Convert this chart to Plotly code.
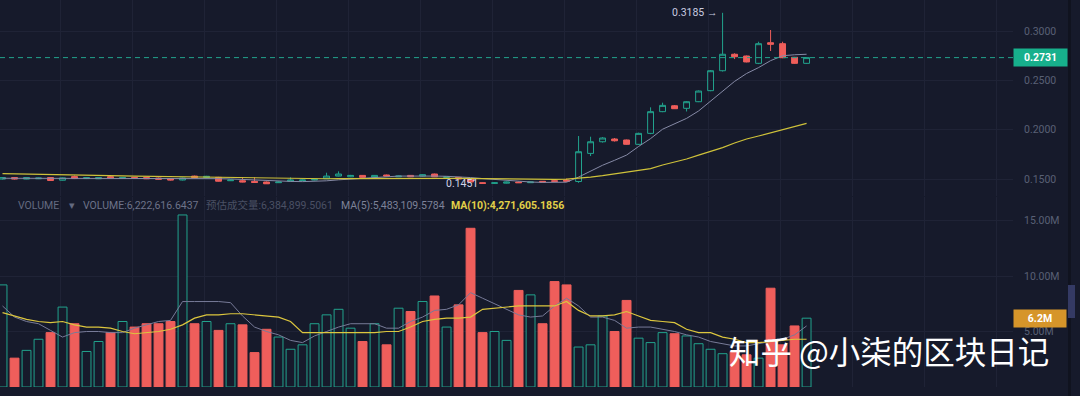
import plotly.graph_objects as go

# ---------------- data ----------------
idx = list(range(68))
opens = [0.1500,0.1515,0.1500,0.1503,0.1515,0.1488,0.1525,0.1505,0.1503,0.1524,
         0.1508,0.1516,0.1515,0.1510,0.1503,0.1490,0.1530,0.1515,0.1517,0.1483,
         0.1483,0.1477,0.1470,0.1463,0.1477,0.1483,0.1490,0.1503,0.1530,0.1523,
         0.1537,0.1517,0.1541,0.1523,0.1537,0.1530,0.1551,0.1517,0.1517,0.1500,
         0.1463,0.1456,0.1458,0.1470,0.1463,0.1477,0.1483,0.1490,0.1475,0.1760,
         0.1878,0.1906,0.1896,0.1852,0.1963,0.2183,0.2243,0.2217,0.2284,0.2396,
         0.2598,0.2765,0.2747,0.2673,0.2882,0.2872,0.2734,0.2673]
highs = [0.1520,0.1520,0.1518,0.1514,0.1520,0.1516,0.1535,0.1518,0.1518,0.1528,
         0.1520,0.1520,0.1518,0.1515,0.1508,0.1514,0.1535,0.1532,0.1522,0.1495,
         0.1517,0.1517,0.1475,0.1475,0.1517,0.1495,0.1500,0.1564,0.1578,0.1542,
         0.1540,0.1540,0.1545,0.1534,0.1540,0.1548,0.1555,0.1526,0.1520,0.1503,
         0.1466,0.1466,0.1474,0.1474,0.1474,0.1480,0.1486,0.1505,0.1936,0.1929,
         0.1925,0.1916,0.1900,0.1970,0.2227,0.2274,0.2250,0.2290,0.2398,0.2605,
         0.3185,0.2775,0.2752,0.2892,0.3011,0.2892,0.2738,0.2735]
lows = [0.1495,0.1495,0.1498,0.1500,0.1482,0.1485,0.1500,0.1500,0.1500,0.1508,
        0.1505,0.1505,0.1500,0.1495,0.1486,0.1486,0.1510,0.1512,0.1475,0.1480,
        0.1467,0.1462,0.1450,0.1460,0.1474,0.1480,0.1487,0.1500,0.1527,0.1520,
        0.1514,0.1514,0.1527,0.1520,0.1520,0.1527,0.1520,0.1514,0.1497,0.1465,
        0.1451,0.1452,0.1455,0.1460,0.1460,0.1467,0.1474,0.1474,0.1462,0.1733,
        0.1870,0.1880,0.1848,0.1845,0.1955,0.2178,0.2210,0.2185,0.2280,0.2390,
        0.2590,0.2716,0.2683,0.2665,0.2798,0.2725,0.2668,0.2668]
closes = [0.1515,0.1500,0.1515,0.1510,0.1485,0.1512,0.1505,0.1514,0.1515,0.1512,
          0.1516,0.1508,0.1503,0.1498,0.1490,0.1510,0.1515,0.1528,0.1478,0.1490,
          0.1470,0.1465,0.1452,0.1470,0.1490,0.1490,0.1497,0.1530,0.1551,0.1537,
          0.1517,0.1537,0.1530,0.1530,0.1523,0.1544,0.1523,0.1523,0.1500,0.1470,
          0.1456,0.1462,0.1470,0.1463,0.1470,0.1470,0.1477,0.1477,0.1777,0.1878,
          0.1916,0.1888,0.1852,0.1963,0.2183,0.2247,0.2213,0.2284,0.2392,0.2598,
          0.2765,0.2740,0.2687,0.2872,0.2866,0.2730,0.2673,0.2731]
ma7 = [0.1508,0.1508,0.1507,0.1507,0.1506,0.1505,0.1506,0.1507,0.1508,0.1510,
       0.1511,0.1511,0.1510,0.1508,0.1506,0.1506,0.1507,0.1508,0.1504,0.1501,
       0.1495,0.1490,0.1483,0.1478,0.1476,0.1474,0.1476,0.1482,0.1492,0.1500,
       0.1508,0.1517,0.1525,0.1530,0.1530,0.1532,0.1530,0.1528,0.1523,0.1515,
       0.1505,0.1495,0.1486,0.1477,0.1470,0.1466,0.1466,0.1468,0.1520,0.1580,
       0.1640,0.1690,0.1743,0.1830,0.1910,0.2005,0.2058,0.2115,0.2190,0.2290,
       0.2390,0.2490,0.2570,0.2630,0.2700,0.2750,0.2760,0.2765]
ma30 = [0.1555,0.1552,0.1549,0.1546,0.1544,0.1542,0.1540,0.1538,0.1536,0.1534,
        0.1532,0.1530,0.1528,0.1526,0.1524,0.1522,0.1520,0.1518,0.1516,0.1514,
        0.1512,0.1510,0.1508,0.1506,0.1505,0.1504,0.1503,0.1503,0.1504,0.1505,
        0.1506,0.1507,0.1508,0.1508,0.1508,0.1508,0.1508,0.1507,0.1506,0.1504,
        0.1502,0.1500,0.1499,0.1498,0.1497,0.1496,0.1497,0.1500,0.1508,0.1520,
        0.1535,0.1551,0.1571,0.1586,0.1606,0.1642,0.1672,0.1703,0.1743,0.1779,
        0.1819,0.1865,0.1906,0.1936,0.1967,0.1997,0.2032,0.2065]
volume_m = [9.2,2.6,3.3,4.3,4.9,7.2,5.7,3.2,4.1,4.9,
            5.9,5.4,5.7,5.7,5.9,15.5,5.7,5.9,5.1,5.7,
            5.6,3.1,5.2,4.5,3.4,3.8,5.7,6.5,7.0,5.3,
            4.1,5.7,3.8,7.1,6.8,7.7,8.2,5.4,7.4,14.3,
            4.9,5.0,4.2,8.7,8.3,5.7,9.5,9.2,3.6,3.8,
            6.4,5.0,7.8,4.4,4.0,4.9,4.8,4.6,3.9,3.4,
            3.0,3.2,2.9,2.6,8.9,3.8,5.5,6.2]
vol_ma5_m = [7.3,6.3,5.9,5.7,5.1,4.5,4.9,5.0,5.0,4.9,
             4.9,5.3,5.6,5.9,6.0,7.7,7.7,7.7,7.7,7.6,
             6.4,5.4,5.0,4.7,4.2,4.0,4.6,5.0,5.4,5.7,
             5.7,5.7,5.3,5.3,5.9,6.3,6.9,7.0,7.4,8.5,
             8.0,7.5,7.0,6.5,6.3,6.4,7.3,8.0,7.3,6.3,
             6.3,6.0,5.3,5.4,5.4,5.2,5.0,4.7,4.5,4.1,
             3.9,3.7,3.7,3.9,4.1,4.3,4.7,5.5]
vol_ma10_m = [6.7,6.4,6.1,5.9,5.8,5.9,5.6,5.4,5.4,5.3,
              5.0,4.8,4.9,5.0,5.2,5.6,6.2,6.5,6.5,6.6,
              6.6,6.5,6.4,6.3,5.9,4.9,4.9,4.9,4.9,4.9,
              4.9,4.9,5.0,5.0,5.4,5.9,6.1,6.2,6.2,6.3,
              7.0,7.1,7.2,7.3,7.3,7.3,7.3,7.7,6.9,6.4,
              6.4,6.5,6.8,6.4,6.0,5.9,5.8,5.2,4.9,4.9,
              4.5,4.3,4.0,4.0,4.1,4.2,4.3,4.3]
price_ticks = [0.15, 0.20, 0.25, 0.30]
price_tick_text = ["0.1500", "0.2000", "0.2500", "0.3000"]
vol_ticks_m = [5, 10, 15]
vol_tick_text = ["5.00M", "10.00M", "15.00M"]
last_price = 0.2731
last_volume_m = 6.2
high_label = 0.3185
low_label = 0.1451

volume = [v * 1e6 for v in volume_m]
vol_ma5 = [v * 1e6 for v in vol_ma5_m]
vol_ma10 = [v * 1e6 for v in vol_ma10_m]

# ---------------- style ----------------
BG = "#161a2b"
TEAL = "#22a38d"
RED = "#ef5e5b"
GRID = "#1f2336"
AXIS_TXT = "#596075"
FONT = "Roboto"

up = [c >= o for o, c in zip(opens, closes)]
bar_fill = [BG if u else RED for u in up]
bar_line = [TEAL if u else RED for u in up]

fig = go.Figure()

fig.add_trace(go.Bar(
    x=idx, y=volume, width=0.74, xaxis="x", yaxis="y",
    marker=dict(color=bar_fill, line=dict(color=bar_line, width=1)),
    hoverinfo="skip", showlegend=False))
fig.add_trace(go.Scatter(x=idx, y=vol_ma5, mode="lines", xaxis="x", yaxis="y",
                         line=dict(color="#777b98", width=1), hoverinfo="skip", showlegend=False))
fig.add_trace(go.Scatter(x=idx, y=vol_ma10, mode="lines", xaxis="x", yaxis="y",
                         line=dict(color="#dcc63e", width=1.2), hoverinfo="skip", showlegend=False))

fig.add_trace(go.Candlestick(
    x=idx, open=opens, high=highs, low=lows, close=closes, xaxis="x2", yaxis="y2",
    increasing=dict(line=dict(color=TEAL, width=1), fillcolor="rgba(0,0,0,0)"),
    decreasing=dict(line=dict(color=RED, width=1), fillcolor=RED),
    hoverinfo="skip", showlegend=False))
fig.add_trace(go.Scatter(x=idx, y=ma7, mode="lines", xaxis="x2", yaxis="y2",
                         line=dict(color="#868aa6", width=1), hoverinfo="skip", showlegend=False))
fig.add_trace(go.Scatter(x=idx, y=ma30, mode="lines", xaxis="x2", yaxis="y2",
                         line=dict(color="#cfc23a", width=1.2), hoverinfo="skip", showlegend=False))

xcommon = dict(range=[-0.21, 84.2], showgrid=True, gridcolor=GRID, gridwidth=1,
               tick0=4.79, dtick=6, showticklabels=False, zeroline=False,
               showline=False, ticks="", fixedrange=True)

fig.update_layout(
    width=1080, height=396,
    margin=dict(l=0, r=67, t=0, b=9, autoexpand=False),
    paper_bgcolor=BG, plot_bgcolor=BG,
    font=dict(family=FONT, color=AXIS_TXT, size=10),
    xaxis=dict(domain=[0, 1], anchor="y", **xcommon),
    xaxis2=dict(domain=[0, 1], anchor="y2", matches="x", rangeslider=dict(visible=False), **xcommon),
    yaxis=dict(domain=[0, 0.491], range=[0, 17.12e6], side="right",
               tickvals=[v * 1e6 for v in vol_ticks_m], ticktext=vol_tick_text,
               showgrid=True, gridcolor=GRID, zeroline=False, ticks="",
               ticklabelstandoff=10, tickfont=dict(size=10.5, color=AXIS_TXT)),
    yaxis2=dict(domain=[0.4935, 1], range=[0.1328, 0.3315], side="right",
                tickvals=price_ticks, ticktext=price_tick_text,
                showgrid=True, gridcolor=GRID, zeroline=False, ticks="",
                ticklabelstandoff=10, tickfont=dict(size=10.5, color=AXIS_TXT)),
    bargap=0, showlegend=False,
)

# last-price dashed line
fig.add_shape(type="line", xref="paper", yref="y2", x0=0, x1=1,
              y0=last_price, y1=last_price, line=dict(color=TEAL, width=1, dash="5px,4px"))

annots = []
# price tag
annots.append(dict(xref="paper", yref="y2", x=1.0, y=last_price, xanchor="left", yanchor="middle",
                   text="<b>%.4f</b>" % last_price, showarrow=False, bgcolor="#17b08c",
                   width=49, height=13, borderpad=2, font=dict(color="white", size=10.5, family=FONT)))
# volume tag
annots.append(dict(xref="paper", yref="y", x=1.0, y=last_volume_m * 1e6, xanchor="left", yanchor="middle",
                   text="<b>%.1fM</b>" % last_volume_m, showarrow=False, bgcolor="#d6952a",
                   width=48, height=13, borderpad=2, font=dict(color="white", size=10.5, family=FONT)))
# high / low labels
annots.append(dict(xref="x2", yref="y2", x=59.7, y=high_label, xanchor="right", yanchor="middle",
                   text="%.4f →" % high_label, showarrow=False, font=dict(color="#c9cce0", size=10.5, family=FONT)))
annots.append(dict(xref="x2", yref="y2", x=39.75, y=low_label, xanchor="right", yanchor="middle",
                   text="%.4f" % low_label, showarrow=False, font=dict(color="#d0d3e6", size=10.5, family=FONT)))

# volume legend line
legend_y = (387 - 205.5) / 387
legend_parts = [
    (16, "VOLUME", "#646a80", False),
    (67, "▾", "#646a80", False),
    (81, "VOLUME:6,222,616.6437", "#6d7389", False),
    (204, "预估成交量:6,384,899.5061", "#4a5064", False),
    (339, "MA(5):5,483,109.5784", "#7d8298", False),
    (449, "MA(10):4,271,605.1856", "#e2d048", True),
]
for px, txt, col, bold in legend_parts:
    annots.append(dict(xref="paper", yref="paper", x=px / 1013, y=legend_y, xanchor="left", yanchor="middle",
                       text=("<b>%s</b>" % txt) if bold else txt, showarrow=False,
                       font=dict(color=col, size=10.5, family=FONT + ", Noto Sans CJK SC")))

# watermark
annots.append(dict(xref="paper", yref="paper", x=888.5 / 1013, y=(387 - 350) / 387, xanchor="center", yanchor="middle",
                   text="知乎 @小柒的区块日记", showarrow=False,
                   font=dict(color="white", size=31.5, family="Noto Sans CJK SC")))
fig.update_layout(annotations=annots)

# right-edge strip & scroll button
fig.add_shape(type="rect", xref="paper", yref="paper", x0=1068 / 1013, x1=1071 / 1013, y0=-9 / 387, y1=1,
              fillcolor="#10131f", line=dict(width=0), layer="above")
fig.add_shape(type="rect", xref="paper", yref="paper", x0=1068 / 1013, x1=1075 / 1013,
              y0=(387 - 318) / 387, y1=(387 - 285) / 387, fillcolor="#343a64", line=dict(width=0), layer="above")

fig.write_html("out.html",
               config={"displayModeBar": False, "staticPlot": True},
               post_script="document.body.style.margin='0';document.body.style.overflow='hidden';"
                           "document.body.style.background='#161a2b';")
